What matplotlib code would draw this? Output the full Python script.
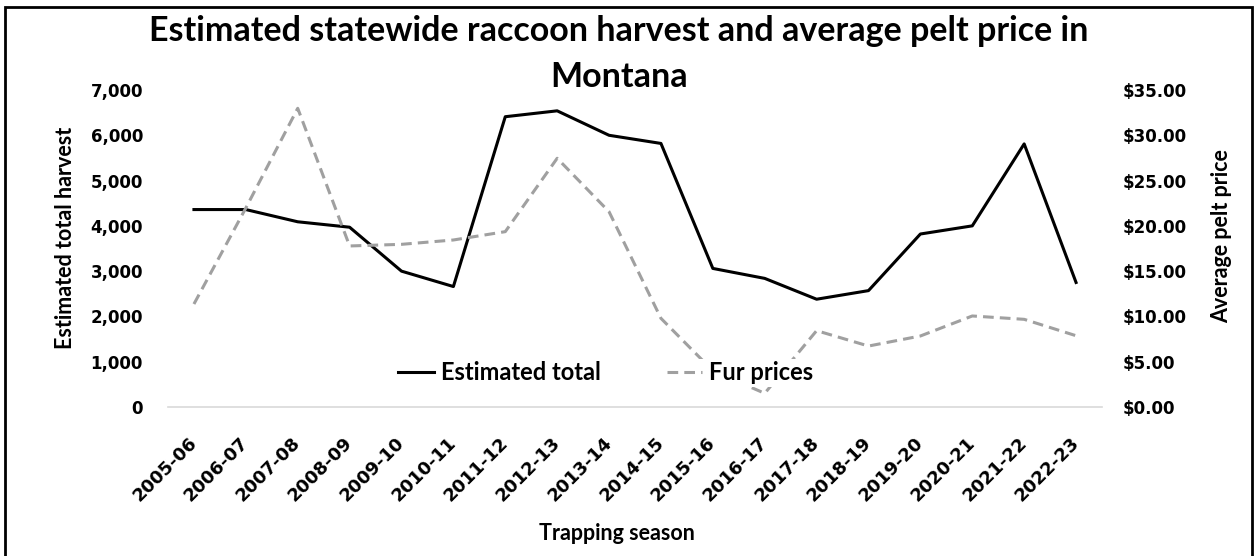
import numpy as np
import matplotlib
matplotlib.use("Agg")
import matplotlib.pyplot as plt
from matplotlib.ticker import FuncFormatter

plt.rcParams['font.family'] = ['Lato', 'DejaVu Sans']
plt.rcParams['font.weight'] = 'bold'

seasons = ['2005-06', '2006-07', '2007-08', '2008-09', '2009-10', '2010-11',
           '2011-12', '2012-13', '2013-14', '2014-15', '2015-16', '2016-17',
           '2017-18', '2018-19', '2019-20', '2020-21', '2021-22', '2022-23']
harvest = [4360, 4360, 4090, 3970, 3000, 2660, 6410, 6540, 6000, 5820,
           3060, 2840, 2380, 2570, 3820, 4000, 5810, 2750]
fur_price = [11.37, 21.97, 32.98, 17.78, 17.96, 18.44, 19.36, 27.46, 21.56, 9.79,
             4.00, 1.51, 8.43, 6.73, 7.84, 10.05, 9.68, 7.87]

W, H = 1257, 556
fig = plt.figure(figsize=(W / 100, H / 100), dpi=100)
# plot area in pixels: x 168..1102, y 90..407
ax = fig.add_axes([168 / W, 1 - 407 / H, 934 / W, 317 / H])
ax2 = ax.twinx()

x = np.arange(len(seasons))
l1, = ax.plot(x, harvest, color='black', lw=2.2, label='Estimated total')
l2, = ax2.plot(x, fur_price, color='#a0a0a0', lw=2.2, ls=(0, (3.5, 2)),
               label='Fur prices')

ax.set_xlim(-0.5, len(seasons) - 0.5)
ax.set_ylim(0, 7000)
ax2.set_ylim(0, 35)
ax.set_yticks(np.arange(0, 7001, 1000))
ax2.set_yticks(np.arange(0, 36, 5))
ax.yaxis.set_major_formatter(FuncFormatter(lambda v, p: f'{v:,.0f}'))
ax2.yaxis.set_major_formatter(FuncFormatter(lambda v, p: f'${v:.2f}'))

ax.set_xticks(x)
ax.set_xticklabels(seasons, rotation=45, ha='right', va='center',
                   rotation_mode='anchor')

num_font = dict(family='DejaVu Sans', weight='bold')
for a in (ax, ax2):
    for s in a.spines.values():
        s.set_visible(False)
    a.tick_params(length=0)
    for lab in a.get_yticklabels():
        lab.set(fontsize=12, **num_font)
for lab in ax.get_xticklabels():
    lab.set(fontsize=13, **num_font)

ax.spines['bottom'].set_visible(True)
ax.spines['bottom'].set_color('#d9d9d9')
ax.spines['bottom'].set_linewidth(1.2)
ax.tick_params(axis='y', pad=18)
ax.tick_params(axis='x', pad=24)
ax2.tick_params(axis='y', pad=15)

lab_kw = dict(fontsize=15.5, fontweight='bold', ha='center', va='center')
ax.set_ylabel('Estimated total harvest', **lab_kw)
ax.yaxis.set_label_coords((65 - 168) / 934, (407 - 238) / 317)
ax2.set_ylabel('Average pelt price', rotation=90, **lab_kw)
ax2.yaxis.set_label_coords((1222 - 168) / 934, (407 - 236) / 317)
ax.set_xlabel('Trapping season', **lab_kw)
ax.xaxis.set_label_coords((617 - 168) / 934, (407 - 534) / 317)

fig.text(619 / W, 1 - 31 / H,
         'Estimated statewide raccoon harvest and average pelt price in',
         fontsize=24.5, fontweight='bold', ha='center', va='center')
fig.text(619 / W, 1 - 77 / H, 'Montana',
         fontsize=24.5, fontweight='bold', ha='center', va='center')

leg = fig.legend(handles=[l1, l2], loc='center', bbox_to_anchor=(606 / W, 1 - 373 / H),
                 ncol=2, frameon=True, fontsize=17, columnspacing=2.8,
                 handlelength=1.5, handletextpad=0.3, borderpad=0.1)
leg.get_frame().set_facecolor('white')
leg.get_frame().set_edgecolor('none')
leg.get_frame().set_alpha(1)
for t in leg.get_texts():
    t.set_fontweight('bold')

# outer frame around the chart (bottom edge falls off the image)
fig.patches.append(plt.Rectangle((5 / W, -0.01), 1247 / W, 1.01 - 7 / H,
                                 transform=fig.transFigure, fill=False,
                                 edgecolor='black', lw=2))

fig.savefig('out.png', dpi=100)
